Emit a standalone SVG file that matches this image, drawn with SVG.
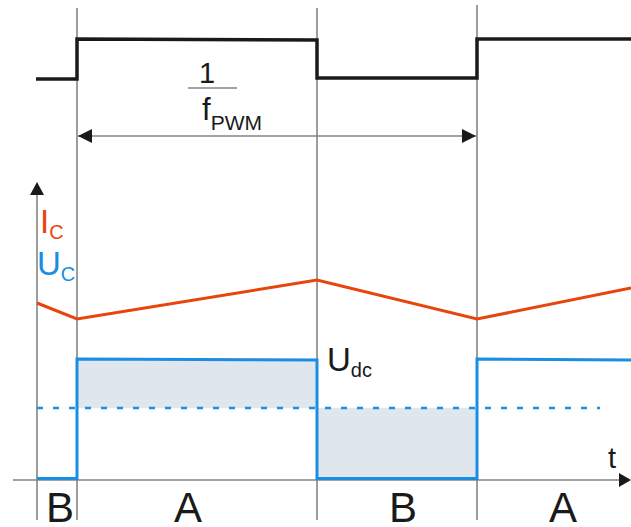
<svg xmlns="http://www.w3.org/2000/svg" width="631" height="527" viewBox="0 0 631 527">
<style>
.grid{stroke:#858585;stroke-width:1.6;fill:none}
.txt{font-family:"Liberation Sans",Arial,sans-serif;fill:#1a1a1a}
.red{fill:#e8440c}
.blue{fill:#1a8ee0}
.fillarea{fill:#dfe6ee;stroke:none}
</style>
<defs>
<marker id="ah" viewBox="0 0 14 14" refX="14" refY="7" markerWidth="14" markerHeight="14" markerUnits="userSpaceOnUse" orient="auto-start-reverse">
<path d="M0,0 L14,7 L0,14 Z" fill="#1a1a1a"/>
</marker>
</defs>
<rect width="631" height="527" fill="#ffffff"/>
<g id="shading">
<rect class="fillarea" x="77" y="359" width="240" height="49"/>
<rect class="fillarea" x="317" y="408" width="160" height="71"/>
</g>
<g id="gridlines">
<line class="grid" x1="77" y1="8" x2="77" y2="520"/>
<line class="grid" x1="317" y1="8" x2="317" y2="520"/>
<line class="grid" x1="477" y1="5" x2="477" y2="520"/>
</g>
<g id="axes">
<line class="grid" x1="37" y1="190" x2="37" y2="520"/>
<path d="M37,182 L30,195 L44,195 Z" fill="#1a1a1a"/>
<line class="grid" x1="13" y1="480" x2="622" y2="480"/>
<path d="M631,480 L619,473 L619,487 Z" fill="#1a1a1a"/>
</g>
<g id="connectors">
<line x1="78" y1="136" x2="476" y2="136" stroke="#858585" stroke-width="1.6" marker-start="url(#ah)" marker-end="url(#ah)"/>
</g>
<g id="pwm">
<path d="M36,79 L77,79 L77,39 L317,40 L317,78 L477,78 L477,39 L631,39" fill="none" stroke="#1a1a1a" stroke-width="3.5" stroke-linejoin="miter"/>
</g>
<g id="current">
<path d="M37,303 L77,319 L317,280 L477,319 L631,288" fill="none" stroke="#e8440c" stroke-width="3"/>
</g>
<g id="voltage">
<line x1="37" y1="408" x2="600" y2="408" stroke="#1a8ee0" stroke-width="2.5" stroke-dasharray="6 10"/>
<path d="M37,478.5 L77,478.5 L77,359 L317,360 L317,478.5 L477,478.5 L477,359 L631,360" fill="none" stroke="#1a8ee0" stroke-width="3"/>
</g>
<g id="fraction">
<text class="txt" x="207" y="83" font-size="29" text-anchor="middle">1</text>
<line x1="188" y1="88" x2="237" y2="88" stroke="#858585" stroke-width="1.6"/>
<text class="txt" x="202" y="120" font-size="31">f<tspan font-size="21" dy="10">PWM</tspan></text>
</g>
<g id="labels">
<text class="txt red" x="40" y="233" font-size="33">I<tspan font-size="20" dy="6">C</tspan></text>
<text class="txt blue" x="37" y="275" font-size="33">U<tspan font-size="20" dy="6">C</tspan></text>
<text class="txt" x="327" y="371" font-size="33">U<tspan font-size="20" dy="6">dc</tspan></text>
<text class="txt" x="608" y="468" font-size="29">t</text>
<text class="txt" x="60" y="522" font-size="42" text-anchor="middle">B</text>
<text class="txt" x="188" y="522" font-size="42" text-anchor="middle">A</text>
<text class="txt" x="403" y="522" font-size="42" text-anchor="middle">B</text>
<text class="txt" x="563" y="522" font-size="42" text-anchor="middle">A</text>
</g>
</svg>
